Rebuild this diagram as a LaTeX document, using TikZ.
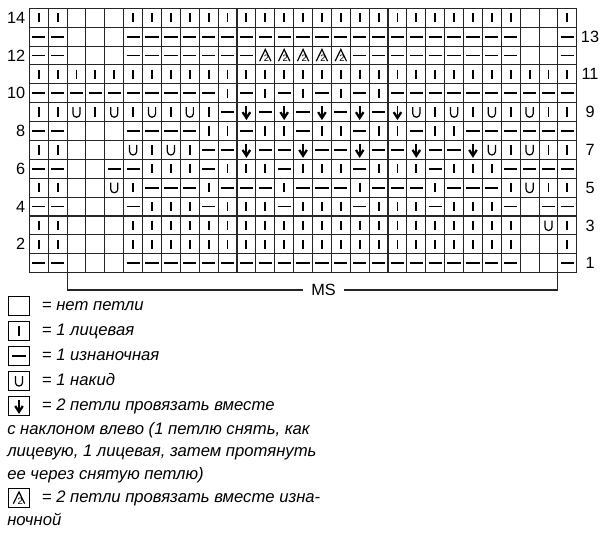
\documentclass[tikz,border=0pt]{standalone}
\usepackage{fontspec}
\setmainfont{Liberation Sans}
\tikzset{
  grd/.style={line width=0.8pt, black!85},
  sym/.style={line width=1.4pt},
  thinsym/.style={line width=0.9pt},
  cell/.style={x=14.16pt, y=-14.16pt},
  keybox/.style={draw, line width=0.8pt, minimum width=16.3pt, minimum height=13.8pt, inner sep=0pt},
  keytext/.style={anchor=base west, inner sep=0pt, font=\fontsize{12.5}{15}\selectfont\itshape},
  rownum/.style={inner sep=0pt, font=\fontsize{12.2}{14}\selectfont},
  k/.pic={\draw[sym] (0,-0.25) -- (0,0.25);},
  p/.pic={\draw[sym] (-0.35,0) -- (0.35,0);},
  o/.pic={\draw[thinsym] (-0.19,-0.26) -- (-0.19,0.08) arc[start angle=180, end angle=0, radius=0.19] -- (0.19,-0.26);},
  d/.pic={\draw[sym] (0,-0.32) -- (0,0.26); \draw[line width=1.7pt, line join=miter] (-0.2,0.0) -- (0,0.31) -- (0.2,0.0);},
  q/.pic={\draw[thinsym, line join=miter] (-0.3,0.3) -- (0,-0.32) -- (0.3,0.3);
          \node[inner sep=0pt, font=\fontsize{7}{7}\selectfont] at (0.06,0.15) {2};},
  n/.pic={}
}
\begin{document}
\begin{tikzpicture}[x=0.75pt, y=-0.75pt]
\useasboundingbox (0,0) rectangle (604,538);
\begin{scope}[shift={(29.3,8.3)}, cell]
  \foreach \i in {0,...,29} \draw[grd] (\i,0) -- (\i,14);
  \foreach \j in {0,...,14} \draw[grd] (0,\j) -- (29,\j);
  \foreach \s [count=\c] in {k,k,n,n,n,k,k,k,k,k,k,k,k,k,k,k,k,k,k,k,k,k,k,k,k,k,n,n,k} \pic at (\c-0.5,0.5) {\s};
  \foreach \s [count=\c] in {p,p,n,n,n,p,p,p,p,p,p,p,p,p,p,p,p,p,p,p,p,p,p,p,p,p,n,n,p} \pic at (\c-0.5,1.5) {\s};
  \foreach \s [count=\c] in {p,p,n,n,n,p,p,p,p,p,p,p,q,q,q,q,q,p,p,p,p,p,p,p,p,p,n,n,p} \pic at (\c-0.5,2.5) {\s};
  \foreach \s [count=\c] in {k,k,k,k,k,k,k,k,k,k,k,k,k,k,k,k,k,k,k,k,k,k,k,k,k,k,k,k,k} \pic at (\c-0.5,3.5) {\s};
  \foreach \s [count=\c] in {p,p,p,p,p,p,p,p,p,p,k,p,k,p,k,p,k,p,k,p,p,p,p,p,p,p,p,p,p} \pic at (\c-0.5,4.5) {\s};
  \foreach \s [count=\c] in {k,k,o,k,o,k,o,k,o,k,p,d,p,d,p,d,p,d,p,d,o,k,o,k,o,k,o,k,k} \pic at (\c-0.5,5.5) {\s};
  \foreach \s [count=\c] in {p,p,n,n,n,p,p,p,p,k,k,p,k,k,p,k,k,p,k,k,p,k,k,p,p,p,p,p,p} \pic at (\c-0.5,6.5) {\s};
  \foreach \s [count=\c] in {k,k,n,n,n,o,k,o,k,p,p,d,p,p,d,p,p,d,p,p,d,p,p,d,o,k,o,k,k} \pic at (\c-0.5,7.5) {\s};
  \foreach \s [count=\c] in {p,p,n,n,p,p,k,k,k,p,k,k,k,p,k,k,k,p,k,k,k,p,k,k,k,p,p,p,p} \pic at (\c-0.5,8.5) {\s};
  \foreach \s [count=\c] in {k,k,n,n,o,k,p,p,p,k,p,p,p,k,p,p,p,k,p,p,p,k,p,p,p,k,o,k,k} \pic at (\c-0.5,9.5) {\s};
  \foreach \s [count=\c] in {p,p,n,n,n,p,k,k,k,p,k,k,k,p,k,k,k,p,k,k,k,p,k,k,k,p,n,p,p} \pic at (\c-0.5,10.5) {\s};
  \foreach \s [count=\c] in {k,k,n,n,n,k,k,k,k,k,k,k,k,k,k,k,k,k,k,k,k,k,k,k,k,k,n,o,k} \pic at (\c-0.5,11.5) {\s};
  \foreach \s [count=\c] in {k,k,n,n,n,k,k,k,k,k,k,k,k,k,k,k,k,k,k,k,k,k,k,k,k,k,n,n,k} \pic at (\c-0.5,12.5) {\s};
  \foreach \s [count=\c] in {p,p,n,n,n,p,p,p,p,p,p,p,p,p,p,p,p,p,p,p,p,p,p,p,p,p,n,n,p} \pic at (\c-0.5,13.5) {\s};
  \foreach \r in {14,12,...,2} \node[rownum, anchor=east] (n\r) at (-0.2,14.5-\r) {\r};
  \foreach \r in {13,11,...,1} \node[rownum] (n\r) at (29.7,14.5-\r) {\r};
  \node[rownum, inner xsep=6pt] (ms) at (15.58,14.92) {MS};
  \coordinate (msl) at (2,14);
  \coordinate (msr) at (28,14);
  \draw[grd] (msl) |- (ms);
  \draw[grd] (msr) |- (ms);
\end{scope}
\node[keybox] (key1) at (19,306) {};
\node[keytext] (txt1) at (41.7,311) {= нет петли};
\node[keybox] (key2) at (19,331) {};
\pic[cell] at (key2) {k};
\node[keytext] (txt2) at (41.7,336) {= 1 лицевая};
\node[keybox] (key3) at (19,356) {};
\pic[cell] at (key3) {p};
\node[keytext] (txt3) at (41.7,361) {= 1 изнаночная};
\node[keybox] (key4) at (19,381) {};
\pic[cell] at (key4) {o};
\node[keytext] (txt4) at (41.7,386) {= 1 накид};
\node[keybox] (key5) at (19,406) {};
\pic[cell] at (key5) {d};
\node[keytext] (txt5) at (41.7,411) {= 2 петли провязать вместе};
\node[keytext] (txt5b) at (7,435) {с наклоном влево (1 петлю снять, как};
\node[keytext] (txt5c) at (7,457) {лицевую, 1 лицевая, затем протянуть};
\node[keytext] (txt5d) at (7,479.5) {ее через снятую петлю)};
\node[keybox] (key6) at (19,498) {};
\pic[cell] at (key6) {q};
\node[keytext] (txt6) at (41.7,503) {= 2 петли провязать вместе изна-};
\node[keytext] (txt6b) at (7,526) {ночной};
\end{tikzpicture}
\end{document}
